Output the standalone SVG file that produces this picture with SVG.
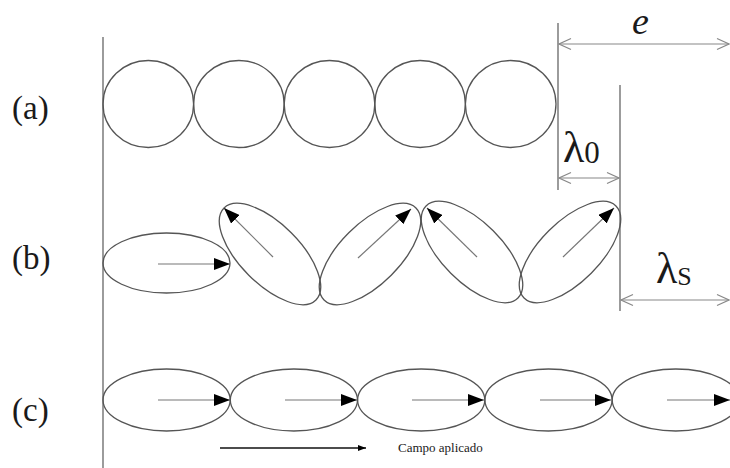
<svg xmlns="http://www.w3.org/2000/svg" width="730" height="468" viewBox="0 0 730 468">
<style>
.bg{fill:#fff}
.p{fill:none;stroke:#555;stroke-width:1.3}
.ax{fill:none;stroke:#666;stroke-width:1.3}
.ar{fill:none;stroke:#777;stroke-width:1.2;marker-end:url(#fa)}
.dim{fill:none;stroke:#888;stroke-width:1.2;marker-start:url(#oa);marker-end:url(#oa)}
.lab{font-family:"Liberation Serif","Times New Roman",serif;fill:#1a1a1a}
</style>
<defs>
<marker id="fa" markerUnits="userSpaceOnUse" markerWidth="17" markerHeight="12" refX="16" refY="6" orient="auto"><path d="M0,0 L16,6 L0,12 z" fill="#000"/></marker>
<marker id="oa" markerUnits="userSpaceOnUse" markerWidth="14" markerHeight="14" refX="13" refY="7" orient="auto-start-reverse"><path d="M1,1.5 L13,7 L1,12.5" fill="none" stroke="#888" stroke-width="1.2"/></marker>
<marker id="sa" markerUnits="userSpaceOnUse" markerWidth="8" markerHeight="7" refX="8" refY="3.5" orient="auto"><path d="M0,0.5 L8,3.5 L0,6.5 z" fill="#000"/></marker>
</defs>
<rect class="bg" x="0" y="0" width="730" height="468"/>
<g id="axes">
<line class="ax" x1="103" y1="37" x2="103" y2="468"/>
<line class="ax" x1="558" y1="23" x2="558" y2="190"/>
<line class="ax" x1="620" y1="85" x2="620" y2="311"/>
</g>
<g id="row-a">
<text class="lab" x="12" y="119" font-size="33">(a)</text>
<ellipse class="p" cx="148.3" cy="104" rx="45.3" ry="43.5"/>
<ellipse class="p" cx="238.9" cy="104" rx="45.3" ry="43.5"/>
<ellipse class="p" cx="329.5" cy="104" rx="45.3" ry="43.5"/>
<ellipse class="p" cx="420.1" cy="104" rx="45.3" ry="43.5"/>
<ellipse class="p" cx="510.7" cy="104" rx="45.3" ry="43.5"/>
</g>
<g id="row-b">
<text class="lab" x="12" y="269" font-size="33">(b)</text>
<ellipse class="p" cx="166.5" cy="263" rx="63.5" ry="30"/>
<ellipse class="p" cx="270" cy="254" rx="65" ry="30" transform="rotate(45 270 254)"/>
<ellipse class="p" cx="370" cy="254" rx="65" ry="30" transform="rotate(-45 370 254)"/>
<ellipse class="p" cx="472" cy="252" rx="65" ry="30" transform="rotate(45 472 252)"/>
<ellipse class="p" cx="570" cy="252" rx="65" ry="30" transform="rotate(-45 570 252)"/>
</g>
<g id="row-c">
<text class="lab" x="12" y="421" font-size="33">(c)</text>
<ellipse class="p" cx="166.6" cy="400" rx="63.6" ry="31"/>
<ellipse class="p" cx="293.9" cy="400" rx="63.6" ry="31"/>
<ellipse class="p" cx="421.2" cy="400" rx="63.6" ry="31"/>
<ellipse class="p" cx="548.5" cy="400" rx="63.6" ry="31"/>
<ellipse class="p" cx="675.8" cy="400" rx="63.6" ry="31"/>
</g>
<g id="connectors">
<line class="ar" x1="158" y1="264" x2="230" y2="264"/>
<line class="ar" x1="273" y1="257" x2="224" y2="208"/>
<line class="ar" x1="358" y1="258" x2="411" y2="209"/>
<line class="ar" x1="477" y1="257" x2="427" y2="208"/>
<line class="ar" x1="563" y1="257" x2="614" y2="208"/>
<line class="ar" x1="158" y1="400" x2="230" y2="400"/>
<line class="ar" x1="285" y1="400" x2="357" y2="400"/>
<line class="ar" x1="412" y1="400" x2="484" y2="400"/>
<line class="ar" x1="540" y1="400" x2="611" y2="400"/>
<line class="ar" x1="667" y1="400" x2="730" y2="400"/>
<line class="dim" x1="559" y1="44" x2="729" y2="44"/>
<line class="dim" x1="559" y1="178" x2="619" y2="178"/>
<line class="dim" x1="621" y1="300" x2="729" y2="300"/>
<line x1="220" y1="448" x2="366" y2="448" stroke="#111" stroke-width="1.5" marker-end="url(#sa)"/>
</g>
<g id="labels">
<text class="lab" x="632" y="34" font-size="38" font-style="italic">e</text>
<text class="lab" x="563" y="162" font-size="44">λ<tspan font-size="31" dy="1">0</tspan></text>
<text class="lab" x="656" y="283" font-size="44">λ<tspan font-size="26" dy="2">S</tspan></text>
<text class="lab" x="398" y="452" font-size="13">Campo aplicado</text>
</g>
</svg>
